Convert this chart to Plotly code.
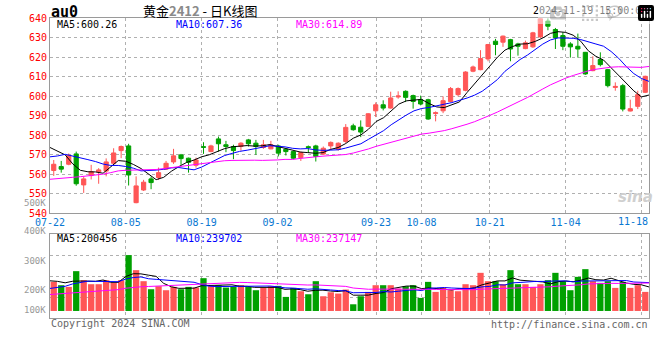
import plotly.graph_objects as go

# ---------------- data ----------------
dates = ["07-22","07-23","07-24","07-25","07-26","07-29","07-30","07-31",
         "08-01","08-02","08-05","08-06","08-07","08-08","08-09","08-12","08-13","08-14","08-15","08-16",
         "08-19","08-20","08-21","08-22","08-23","08-26","08-27","08-28","08-29","08-30",
         "09-02","09-03","09-04","09-05","09-06","09-09","09-10","09-11","09-12","09-13",
         "09-18","09-19","09-20","09-23","09-24","09-25","09-26","09-27","09-30",
         "10-08","10-09","10-10","10-11","10-14","10-15","10-16","10-17","10-18",
         "10-21","10-22","10-23","10-24","10-25","10-28","10-29","10-30","10-31",
         "11-01","11-04","11-05","11-06","11-07","11-08","11-11","11-12","11-13","11-14","11-15","11-18","11-19"]

open_ = [561.8, 563.8, 565.0, 570.3, 554.4, 559.2, 561.1, 561.5, 565.5, 572.0,
         574.4, 545.3, 551.8, 557.5, 558.2, 562.5, 566.2, 569.8, 568.1, 564.5,
         574.0, 571.5, 578.0, 575.0, 574.1, 574.1, 577.5, 575.8, 573.6, 572.9,
         574.4, 572.7, 571.5, 568.4, 574.0, 574.4, 570.2, 574.4, 572.7, 576.7,
         584.7, 584.0, 584.4, 592.4, 595.5, 593.8, 599.5, 602.4, 600.2, 598.1,
         598.1, 591.0, 592.4, 597.2, 600.7, 602.9, 612.7, 613.5, 619.0, 628.1,
         627.6, 628.9, 626.7, 624.3, 625.2, 630.3, 638.4, 634.1, 631.0, 626.7,
         625.5, 622.4, 613.0, 618.7, 613.5, 604.4, 605.3, 592.3, 594.7, 601.9]
high = [567.2, 566.7, 570.5, 571.5, 558.7, 564.7, 563.0, 568.0, 573.2, 574.6,
        575.5, 558.8, 557.0, 558.7, 563.3, 566.7, 572.9, 570.3, 568.4, 568.4,
        576.3, 575.0, 579.2, 577.0, 575.0, 576.3, 578.0, 577.5, 577.5, 577.0,
        575.0, 573.2, 571.9, 571.5, 574.6, 575.0, 574.1, 576.7, 576.2, 585.6,
        585.8, 587.5, 591.2, 596.7, 597.8, 602.2, 602.4, 602.9, 600.7, 600.2,
        598.6, 592.1, 599.8, 604.6, 604.4, 612.7, 615.6, 623.5, 626.7, 629.3,
        631.0, 629.3, 627.3, 628.4, 632.9, 639.8, 639.8, 634.9, 632.7, 627.6,
        632.0, 622.6, 620.4, 622.4, 613.9, 607.0, 606.2, 598.1, 602.7, 610.4]
low = [559.0, 560.7, 564.5, 554.0, 550.3, 557.2, 555.0, 558.8, 564.7, 568.1,
       554.1, 545.0, 551.3, 552.2, 557.0, 562.1, 565.2, 564.7, 560.7, 563.3,
       570.3, 571.2, 571.5, 571.2, 567.6, 572.0, 574.1, 569.8, 572.9, 572.7,
       569.0, 569.5, 567.6, 566.7, 571.0, 566.4, 569.8, 572.4, 572.0, 575.8,
       582.2, 578.9, 584.0, 589.2, 592.6, 593.5, 598.6, 596.9, 593.5, 595.2,
       587.8, 587.0, 591.2, 596.9, 599.8, 602.4, 612.2, 613.2, 617.8, 620.9,
       625.2, 617.8, 620.7, 624.0, 624.7, 629.8, 633.7, 624.1, 623.5, 619.7,
       619.7, 610.9, 612.7, 615.2, 604.4, 602.7, 592.1, 592.1, 593.3, 601.5]
close = [565.0, 562.5, 569.5, 555.0, 557.5, 561.2, 562.1, 566.2, 570.8, 574.1,
         559.5, 553.9, 555.8, 555.6, 560.7, 565.5, 569.3, 567.9, 566.0, 567.2,
         573.7, 574.4, 575.5, 574.1, 572.0, 575.8, 575.5, 574.1, 575.0, 575.0,
         570.7, 571.5, 568.1, 571.0, 573.6, 569.0, 573.2, 576.2, 575.8, 583.9,
         582.7, 581.5, 590.9, 595.5, 593.8, 599.0, 600.0, 599.3, 597.2, 595.9,
         588.2, 591.4, 597.6, 603.8, 603.8, 612.3, 614.9, 619.2, 626.4, 626.4,
         630.7, 624.1, 625.5, 627.3, 632.4, 639.6, 635.8, 629.8, 625.5, 625.2,
         624.1, 611.3, 615.6, 616.1, 605.3, 604.9, 593.3, 593.5, 600.7, 610.1]
volume = [244400, 216300, 202200, 334300, 258400, 224700, 224700, 258400, 236000, 258400,
          469100, 342700, 250000, 182600, 207900, 174200, 202200, 182600, 202200, 196600,
          275300, 207900, 216300, 196600, 202200, 216300, 202200, 174200, 196600, 207900,
          210700, 118000, 193800, 165700, 140400, 250000, 123600, 157000, 146100, 179800,
          56200, 123600, 160100, 216300, 216300, 216300, 188200, 207900, 216300, 109600,
          244400, 160100, 193800, 174200, 165700, 224700, 216300, 320200, 250000, 250000,
          224700, 342700, 224700, 224700, 202200, 224700, 258400, 320200, 250000, 174200,
          286500, 351100, 250000, 236000, 250000, 193800, 244400, 193800, 216300, 160100]

# the 29 sessions before 07-22, estimated from where the MA lines start (seed for MAs only)
prior_close = [556, 552, 549, 548, 550, 551, 549, 548, 547, 550,
               551, 553, 556, 554, 552, 553, 555, 552, 551, 554,
               558, 561, 563, 567, 571, 572, 579, 578, 574]
prior_volume = [98000, 105000, 120000, 110000, 95000, 118000, 125000, 108000, 102000, 115000,
                110000, 120000, 105000, 112000, 118000, 108000, 115000, 132000, 120000, 114000,
                118000, 122000, 130000, 120000, 135000, 240000, 262000, 268000, 251000]

tick_dates = ["07-22", "08-05", "08-19", "09-02", "09-23", "10-08", "10-21", "11-04", "11-18"]
price_ticks = [540, 550, 560, 570, 580, 590, 600, 610, 620, 630, 640]
vol_labels = ["500K", "400K", "300K", "200K", "100K"]
price_ma_text = ["MA5:600.26", "MA10:607.36", "MA30:614.89"]
vol_ma_text = ["MA5:200456", "MA10:239702", "MA30:237147"]

# ---------------- helpers ----------------
def sma(values, lead, n):
    full = lead + values
    out = []
    for i in range(len(values)):
        j = len(lead) + i
        out.append(sum(full[j - n + 1:j + 1]) / n)
    return out

N = len(dates)
idx = list(range(N))
line_x = [i * N / (N - 1) - 0.5 for i in idx]          # Sina draws lines/grid on an N-1 step scale
grid_x = [dates.index(d) * N / (N - 1) - 0.5 for d in tick_dates]

RED = "#ff5656"
GREEN = "#00a000"
MA_COLORS = ["#000000", "#0000ff", "#ff00ff"]
MONO = "DejaVu Sans Mono"
GRID = "#b0b0b0"
FRAME = "#9a9a9a"

L, R, T, B = 50, 11, 18, 42
W, H = 660, 360
PW, PH = W - L - R, H - T - B

def xp(px):
    return (px - L) / PW

def yp(py):
    return (H - B - py) / PH

fig = go.Figure()

fig.add_trace(go.Candlestick(
    x=idx, open=open_, high=high, low=low, close=close,
    increasing=dict(line=dict(color=RED, width=1), fillcolor=RED),
    decreasing=dict(line=dict(color=GREEN, width=1), fillcolor=GREEN),
    whiskerwidth=0, hoverinfo="skip", xaxis="x", yaxis="y", showlegend=False))

for n, col in zip([5, 10, 30], MA_COLORS):
    fig.add_trace(go.Scatter(x=line_x, y=sma(close, prior_close, n), mode="lines",
                             line=dict(color=col, width=1), xaxis="x", yaxis="y",
                             hoverinfo="skip", showlegend=False))

bar_colors = [RED if c >= o else GREEN for o, c in zip(open_, close)]
fig.add_trace(go.Bar(x=idx, y=volume, marker=dict(color=bar_colors, line=dict(width=0)),
                     width=0.84, xaxis="x2", yaxis="y2", hoverinfo="skip", showlegend=False))

for n, col in zip([5, 10, 30], MA_COLORS):
    fig.add_trace(go.Scatter(x=line_x, y=sma(volume, prior_volume, n), mode="lines",
                             line=dict(color=col, width=1), xaxis="x2", yaxis="y2",
                             hoverinfo="skip", showlegend=False))

vol_range = [-59000, 643600]
vol_grid = [vol_range[0] + (vol_range[1] - vol_range[0]) * k / 4 for k in (1, 2, 3)]

axis_common = dict(showline=True, mirror=True, linecolor=FRAME, linewidth=1,
                   showgrid=True, gridcolor=GRID, griddash="dot", gridwidth=1,
                   zeroline=False, ticks="", fixedrange=True)

tick_text = [d if d != tick_dates[-1] else "" for d in tick_dates]

fig.update_layout(
    width=W, height=H, margin=dict(l=L, r=R, t=T, b=B),
    paper_bgcolor="white", plot_bgcolor="white",
    boxgap=0.2, hovermode=False, showlegend=False,
    xaxis=dict(domain=[0, 1], range=[-0.5, N - 0.5], anchor="y",
               tickmode="array", tickvals=grid_x, ticktext=tick_text,
               tickfont=dict(family=MONO, size=10, color="#0a78d2"),
               rangeslider=dict(visible=False), **axis_common),
    yaxis=dict(domain=[0.35, 1], range=[540, 640], anchor="x",
               tickmode="array", tickvals=price_ticks,
               tickfont=dict(family=MONO, size=10, color="#ff0000"), **axis_common),
    xaxis2=dict(domain=[0, 1], range=[-0.5, N - 0.5], anchor="y2", matches="x",
                tickmode="array", tickvals=grid_x, showticklabels=False, **axis_common),
    yaxis2=dict(domain=[0, 0.279], range=vol_range, anchor="x2",
                tickmode="array", tickvals=vol_grid, showticklabels=False, **axis_common),
)

ann = []
def text(s, x, y, size=10, color="#000000", anchor="left", family=MONO, **kw):
    ann.append(dict(text=s, x=xp(x), y=yp(y), xref="paper", yref="paper",
                    xanchor=anchor, yanchor="middle", showarrow=False,
                    font=dict(family=family, size=size, color=color), **kw))

text("<b>au0</b>", 49, 12, size=15)
text("黄金<b><span style='color:#8a8a8a'>2412</span></b> - 日K线图", 200, 10, size=13,
     anchor="center", family="Noto Sans CJK SC")
text("2024-11-19 15:00:00", 649, 10, anchor="right")

for s, x, col in zip(price_ma_text, [55, 174, 294], MA_COLORS):
    text(s, x, 24, color=col)
for s, x, col in zip(vol_ma_text, [55, 174, 294], MA_COLORS):
    text(s, x, 238.5, color=col)

for s, y in zip(vol_labels, [202.5, 231, 261, 290, 310]):
    text(s, 47.5, y, color="#999999", anchor="right", size=9)

text(tick_dates[-1], 650, 221, color="#0a78d2", anchor="right")

text("Copyright 2024 SINA.COM", 49, 323.5, color="#666666")
text("http://finance.sina.com.cn", 650, 324, color="#666666", anchor="right")
text("<b><i>sina</i></b>", 635, 197, size=15, color="#cfcfcf", anchor="center",
     family="DejaVu Sans")

fig.update_layout(annotations=ann)

fig.write_html("out.html", post_script="document.body.style.margin='0px';")
